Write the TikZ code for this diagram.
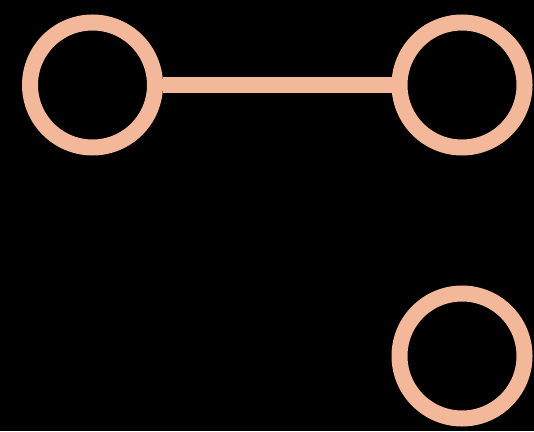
\documentclass[tikz,border=0pt]{standalone}
\usepackage{xcolor}
\usepackage{tikz}
\definecolor{ringpeach}{HTML}{F2B899}

\begin{document}
\begin{tikzpicture}[x=1pt,y=1pt,
    ring/.style={circle, draw=ringpeach, line width=16pt, fill=none,
                 inner sep=0pt, minimum size=125pt},
    link/.style={draw=ringpeach, line width=16pt}]

  % ---- black backdrop, sets the frame ----
  \fill[black] (0,0) rectangle (534,431);

  % ---- the three rings ----
  \node[ring] (topleft)  at (92.5,346) {};
  \node[ring] (topright) at (462,346) {};
  \node[ring] (botright) at (462,75) {};

  % ---- the one bar between the top pair ----
  \draw[link] (topleft) -- (topright);

  \useasboundingbox (0,0) rectangle (534,431);
\end{tikzpicture}
\end{document}
